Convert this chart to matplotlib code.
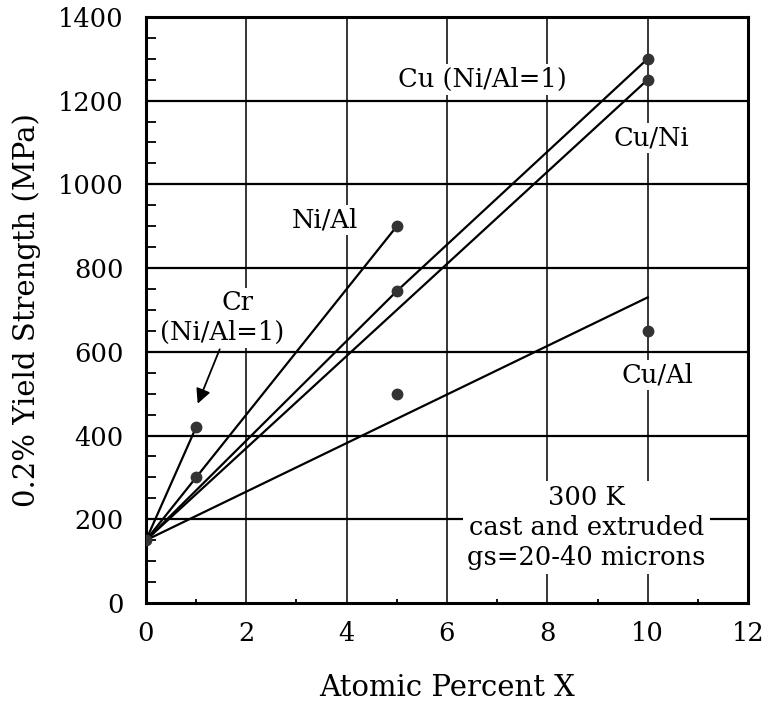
import matplotlib.pyplot as plt
from matplotlib.ticker import MultipleLocator

# Measured points (atomic percent, MPa)
pts_x = [0, 1, 1, 5, 5, 5, 10, 10, 10]
pts_y = [150, 420, 300, 900, 745, 500, 1300, 1250, 650]

# Trend lines for each alloy series
cr_x, cr_y = [0, 1], [150, 420]
nial_x, nial_y = [0, 5], [150, 900]
cu_x, cu_y = [0, 5, 10], [150, 745, 1300]
cuni_x, cuni_y = [0, 10], [150, 1250]
cual_x, cual_y = [0, 10], [150, 730]

xticks = [0, 2, 4, 6, 8, 10, 12]
yticks = [0, 200, 400, 600, 800, 1000, 1200, 1400]

plt.rcParams['font.family'] = ['DejaVu Serif']

fig = plt.figure(figsize=(7.65, 7.07), dpi=100)
ax = fig.add_axes([0.1908, 0.1471, 0.787, 0.829])

# grid
for y in yticks[1:-1]:
    ax.axhline(y, color='black', lw=1.6, zorder=1)
for x in xticks[1:-1]:
    ax.axvline(x, color='black', lw=1.1, zorder=1)

for xs, ys in [(cr_x, cr_y), (nial_x, nial_y), (cu_x, cu_y), (cuni_x, cuni_y), (cual_x, cual_y)]:
    ax.plot(xs, ys, color='black', lw=1.6, zorder=4)

ax.plot(pts_x, pts_y, 'o', color='#333333', markersize=7.5, zorder=5)

box = dict(facecolor='white', edgecolor='none', pad=2)
fs = 18.5
ax.text(1.83, 717, 'Cr', fontsize=fs, ha='center', va='center', bbox=box, zorder=3)
ax.text(1.51, 646, '(Ni/Al=1)', fontsize=fs, ha='center', va='center', bbox=box, zorder=3)
ax.text(3.57, 915, 'Ni/Al', fontsize=fs, ha='center', va='center', bbox=box, zorder=3)
ax.text(6.71, 1250, 'Cu (Ni/Al=1)', fontsize=fs, ha='center', va='center', bbox=box, zorder=3)
ax.text(10.08, 1111, 'Cu/Ni', fontsize=fs, ha='center', va='center', bbox=box, zorder=3)
ax.text(10.2, 545, 'Cu/Al', fontsize=fs, ha='center', va='center', bbox=box, zorder=3)
ax.text(8.78, 180, '300 K\ncast and extruded\ngs=20-40 microns', fontsize=fs,
        ha='center', va='center', linespacing=1.25,
        bbox=dict(facecolor='white', edgecolor='none', pad=3), zorder=3)

ax.annotate('', xy=(1.01, 470), xytext=(1.49, 612),
            arrowprops=dict(arrowstyle='-|>', color='black', lw=1.3,
                            mutation_scale=22), zorder=4)

ax.set_xlim(0, 12)
ax.set_ylim(0, 1400)
ax.set_xticks(xticks)
ax.set_yticks(yticks)
ax.yaxis.set_minor_locator(MultipleLocator(50))
ax.xaxis.set_minor_locator(MultipleLocator(1))
ax.tick_params(which='major', direction='in', length=0, labelsize=18.5, pad=13)
ax.tick_params(axis='y', which='major', pad=16)
ax.tick_params(axis='y', which='minor', direction='in', length=7, width=1.3)
ax.tick_params(axis='x', which='minor', direction='in', length=3, width=1.3)
for s in ax.spines.values():
    s.set_linewidth(2.2)

ax.set_xlabel('Atomic Percent X', fontsize=21, labelpad=20)
ax.set_ylabel('0.2% Yield Strength (MPa)', fontsize=21, labelpad=12)

fig.savefig('out.png', dpi=100)
